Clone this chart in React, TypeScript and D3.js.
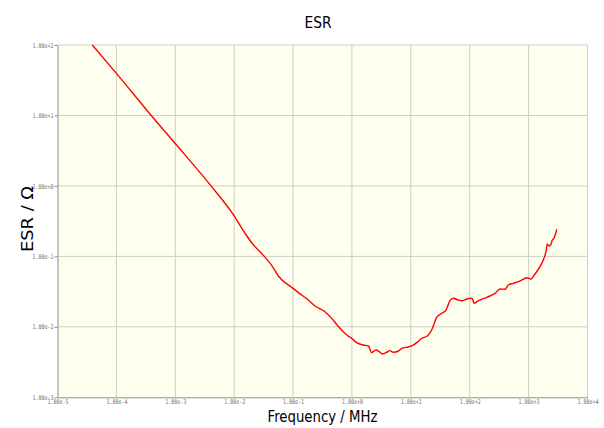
import { FC, useEffect, useRef } from 'react';
import * as d3 from 'd3';

// Frequency in MHz, ESR in ohm
const freqMHz = [
  3.9e-5, 1.0e-4, 3.9e-4, 1.0e-3, 4.05e-3, 9.8e-3, 0.01528, 0.01986, 0.0325, 0.0434,
  0.0562, 0.0998, 0.140, 0.1815, 0.236, 0.348, 0.453, 0.573, 0.713, 0.857,
  0.991, 1.205, 1.56, 1.9, 2.16, 2.56, 2.91, 3.32, 3.89, 4.43,
  5.04, 6.12, 7.0, 8.51, 10.35, 12.6, 15.3, 19.0, 22.6, 27.5,
  33.4, 39.5, 46.2, 52.6, 64.0, 73.1, 88.9, 101, 111, 118,
  140, 170, 221, 269, 327, 397, 452, 550, 668, 813,
  927, 1097, 1283, 1560, 1775, 1972, 2075, 2218, 2371, 2523,
  2698, 3000,
];
const esrOhm = [
  100, 39.6, 10.0, 4.0, 1.0, 0.386, 0.213, 0.156, 0.1, 0.0746,
  0.0527, 0.0352, 0.0283, 0.024, 0.0198, 0.0164, 0.0132, 0.01038, 0.00853, 0.00741,
  0.00687, 0.00596, 0.00552, 0.00535, 0.0043, 0.00469, 0.00444, 0.00412, 0.00436, 0.00459,
  0.00436, 0.0045, 0.00496, 0.00513, 0.00535, 0.00596, 0.00687, 0.00741, 0.00902, 0.01365,
  0.01556, 0.01733, 0.0235, 0.0254, 0.024, 0.0235, 0.0248, 0.0254, 0.0251, 0.0216,
  0.0235, 0.0251, 0.0274, 0.0299, 0.0344, 0.0341, 0.0393, 0.0415, 0.0437, 0.0473,
  0.0498, 0.0477, 0.0562, 0.0714, 0.0889, 0.1167, 0.15, 0.14, 0.145, 0.171,
  0.181, 0.242,
];
const xTicks = [1e-5, 1e-4, 1e-3, 1e-2, 1e-1, 1e0, 1e1, 1e2, 1e3, 1e4];
const yTicks = [1e-3, 1e-2, 1e-1, 1e0, 1e1, 1e2];

const fmt = (v: number) => {
  const e = Math.round(Math.log10(v));
  return `1.00e${e >= 0 ? '+' : '-'}${Math.abs(e)}`;
};

const EsrChart: FC = () => {
  const ref = useRef<SVGSVGElement>(null);

  useEffect(() => {
    const margin = { top: 45, right: 16.5, bottom: 30.7, left: 57.5 };
    const W = 604;
    const H = 428;
    const width = W - margin.left - margin.right;
    const height = H - margin.top - margin.bottom;

    const svg = d3.select(ref.current);
    svg.selectAll('*').remove();

    svg.append('rect').attr('width', W).attr('height', H).attr('fill', '#ffffff');

    const g = svg.append('g').attr('transform', `translate(${margin.left},${margin.top})`);

    const x = d3.scaleLog().domain([1e-5, 1e4]).range([0, width]);
    const y = d3.scaleLog().domain([1e-3, 1e2]).range([height, 0]);

    g.append('rect').attr('width', width).attr('height', height).attr('fill', '#fffff0');

    // grid
    g.append('g')
      .selectAll('line')
      .data(xTicks.slice(1))
      .enter()
      .append('line')
      .attr('x1', (d) => x(d))
      .attr('x2', (d) => x(d))
      .attr('y1', 0)
      .attr('y2', height)
      .attr('stroke', '#cdcdc4')
      .attr('stroke-width', 1);

    g.append('g')
      .selectAll('line')
      .data(yTicks.slice(1))
      .enter()
      .append('line')
      .attr('x1', 0)
      .attr('x2', width)
      .attr('y1', (d) => y(d))
      .attr('y2', (d) => y(d))
      .attr('stroke', '#cdcdc4')
      .attr('stroke-width', 1);

    // axes
    const yAxis = g.append('g').call(d3.axisLeft(y).tickValues(yTicks).tickFormat((d) => fmt(+d)).tickSizeInner(3).tickSizeOuter(0).tickPadding(1));
    const xAxis = g
      .append('g')
      .attr('transform', `translate(0,${height})`)
      .call(d3.axisBottom(x).tickValues(xTicks).tickFormat((d) => fmt(+d)).tickSizeInner(0).tickSizeOuter(0).tickPadding(2));

    [yAxis, xAxis].forEach((a) => {
      a.select('.domain').attr('stroke', '#8c8c8c');
      a.selectAll('.tick line').attr('stroke', '#8c8c8c');
      a.selectAll('text')
        .attr('fill', '#6e6e6e')
        .style('font-family', 'DejaVu Sans Mono, monospace')
        .style('font-size', '6.5px')
        .attr('textLength', 21)
        .attr('lengthAdjust', 'spacingAndGlyphs');
    });

    // curve
    const pts: [number, number][] = freqMHz.map((f, i) => [f, esrOhm[i]]);
    const line = d3
      .line<[number, number]>()
      .x((d) => x(d[0]))
      .y((d) => y(d[1]))
      .curve(d3.curveMonotoneX);

    g.append('path')
      .datum(pts)
      .attr('d', line)
      .attr('fill', 'none')
      .attr('stroke', '#ff0000')
      .attr('stroke-width', 1.4)
      .attr('stroke-linejoin', 'round');

    // titles
    svg
      .append('text')
      .attr('x', 318)
      .attr('y', 28)
      .attr('text-anchor', 'middle')
      .style('font-family', 'DejaVu Sans, sans-serif')
      .style('font-size', '15px')
      .attr('textLength', 27)
      .attr('lengthAdjust', 'spacingAndGlyphs')
      .text('ESR');

    svg
      .append('text')
      .attr('x', margin.left + width / 2)
      .attr('y', 422)
      .attr('text-anchor', 'middle')
      .style('font-family', 'DejaVu Sans, sans-serif')
      .style('font-size', '15.5px')
      .attr('textLength', 110)
      .attr('lengthAdjust', 'spacingAndGlyphs')
      .text('Frequency / MHz');

    svg
      .append('text')
      .attr('transform', `translate(33,219) rotate(-90)`)
      .attr('text-anchor', 'middle')
      .style('font-family', 'DejaVu Sans, sans-serif')
      .style('font-size', '15.5px')
      .attr('textLength', 66)
      .attr('lengthAdjust', 'spacingAndGlyphs')
      .text('ESR / Ω');
  }, []);

  return (
    <svg
      ref={ref}
      width={604}
      height={428}
      style={{ position: 'absolute', left: 0, top: 0, display: 'block' }}
    />
  );
};

export default function App() {
  return <EsrChart />;
}
